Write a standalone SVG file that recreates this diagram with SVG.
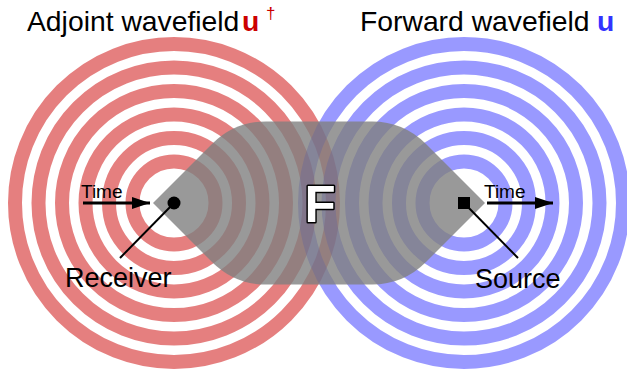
<svg xmlns="http://www.w3.org/2000/svg" width="627" height="369" viewBox="0 0 627 369">
<style>
.red circle{fill:none;stroke:#cc0000;stroke-opacity:.5;stroke-width:14}
.blue circle{fill:none;stroke:#0000ff;stroke-opacity:.4;stroke-width:14}
text{font-family:"Liberation Sans",Arial,sans-serif;fill:#000}
.lbl{font-size:27px}
.title{font-size:28.3px}
.time{font-size:19px}
.conn{stroke:#000;stroke-width:3;fill:none}
.ptr{stroke:#000;stroke-width:2;fill:none}
</style>
<defs>
<marker id="ah" viewBox="0 0 18 12" refX="18" refY="6" markerWidth="18" markerHeight="12" markerUnits="userSpaceOnUse" orient="auto">
<path d="M0,0 L18,6 L0,12 z" fill="#000"/>
</marker>
</defs>
<g id="adjoint-wavefield" class="red">
<circle cx="174" cy="203" r="159"/>
<circle cx="174" cy="203" r="135.5"/>
<circle cx="174" cy="203" r="112"/>
<circle cx="174" cy="203" r="88.5"/>
<circle cx="174" cy="203" r="65"/>
<circle cx="174" cy="203" r="41.5"/>
</g>
<g id="forward-wavefield" class="blue">
<circle cx="464" cy="203" r="159"/>
<circle cx="464" cy="203" r="135.5"/>
<circle cx="464" cy="203" r="112"/>
<circle cx="464" cy="203" r="88.5"/>
<circle cx="464" cy="203" r="65"/>
<circle cx="464" cy="203" r="41.5"/>
</g>
<g id="F-region">
<path d="M153,203 L212,144 Q234.5,121.5 266,121.5 L372,121.5 Q403.5,121.5 426,144 L485,203 L426,262 Q403.5,284.5 372,284.5 L266,284.5 Q234.5,284.5 212,262 Z" fill="#808080" fill-opacity=".8"/>
<text x="320" y="222" text-anchor="middle" font-size="51" font-weight="bold" style="fill:#fff;stroke:#000;stroke-width:3;paint-order:stroke;stroke-linejoin:round">F</text>
</g>
<g id="connectors">
<line class="conn" x1="83" y1="203" x2="150" y2="203" marker-end="url(#ah)"/>
<line class="conn" x1="487" y1="203" x2="553" y2="203" marker-end="url(#ah)"/>
<line class="ptr" x1="174" y1="203" x2="120" y2="258"/>
<line class="ptr" x1="464" y1="203" x2="518" y2="258"/>
</g>
<g id="receiver">
<circle cx="174" cy="203" r="6.5" fill="#000"/>
<text class="lbl" x="65" y="287">Receiver</text>
</g>
<g id="source">
<rect x="458" y="197" width="12" height="12" fill="#000"/>
<text class="lbl" x="475" y="288">Source</text>
</g>
<g id="labels">
<text class="time" x="81" y="198">Time</text>
<text class="time" x="484" y="198">Time</text>
<text class="title" x="27" y="31">Adjoint wavefield</text>
<text class="title" x="242" y="31" font-weight="bold" style="fill:#cc0000">u</text>
<text x="266" y="19" font-size="17" style="fill:#cc0000">†</text>
<text class="title" x="360" y="31">Forward wavefield</text>
<text class="title" x="597" y="31" font-weight="bold" style="fill:#3333ff">u</text>
</g>
</svg>
